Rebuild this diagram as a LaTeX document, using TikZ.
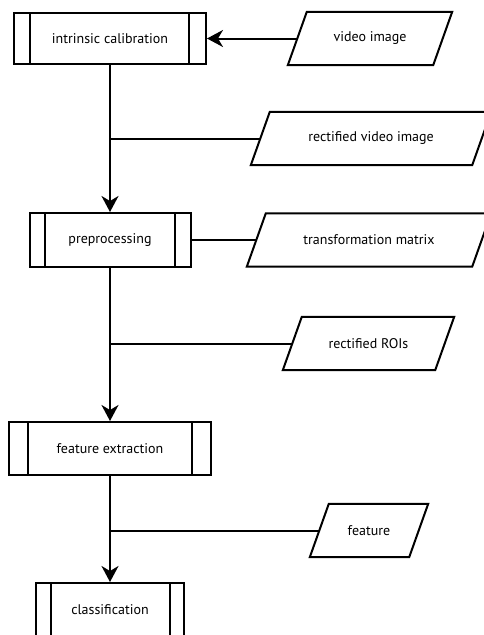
\documentclass[tikz,border=0pt]{standalone}
\usepackage{fontspec}
\setmainfont{PT Sans}
\usetikzlibrary{arrows.meta}
\begin{document}
\begin{tikzpicture}[x=1pt,y=-1pt,
  every node/.style={font=\fontsize{14}{16}\selectfont},
  procbox/.style={draw,line width=2pt,rectangle,inner sep=0pt},
  databox/.style={rectangle,inner sep=0pt,minimum height=53pt},
  conn/.style={line width=2pt},
  flow/.style={line width=2pt,-{Stealth[length=16pt,width=17pt,inset=5pt]}}]
\useasboundingbox (0,0) rectangle (484,635);
\fill[white] (0,0) rectangle (484,635);
% process boxes
\node[procbox,minimum width=192pt,minimum height=51pt] (b1) at (110,38.5) {intrinsic calibration};
\node[procbox,minimum width=161pt,minimum height=54pt] (b2) at (110,240) {preprocessing};
\node[procbox,minimum width=202pt,minimum height=53pt] (b3) at (110,448.5) {feature extraction};
\node[procbox,minimum width=148pt,minimum height=54pt] (b4) at (110,610) {classification};
\draw[conn] ([xshift=17pt]b1.north west) -- ([xshift=17pt]b1.south west);
\draw[conn] ([xshift=-18pt]b1.north east) -- ([xshift=-18pt]b1.south east);
\draw[conn] ([xshift=16pt]b2.north west) -- ([xshift=16pt]b2.south west);
\draw[conn] ([xshift=-17pt]b2.north east) -- ([xshift=-17pt]b2.south east);
\draw[conn] ([xshift=20pt]b3.north west) -- ([xshift=20pt]b3.south west);
\draw[conn] ([xshift=-20pt]b3.north east) -- ([xshift=-20pt]b3.south east);
\draw[conn] ([xshift=16pt]b4.north west) -- ([xshift=16pt]b4.south west);
\draw[conn] ([xshift=-15pt]b4.north east) -- ([xshift=-15pt]b4.south east);
% data boxes (node width = width at mid-height; outline slanted by 19pt)
\node[databox,minimum width=145pt] (p1) at (370,38.5) {video image};
\node[databox,minimum width=221pt] (p2) at (371,138.5) {rectified video image};
\node[databox,minimum width=225pt] (p3) at (369,240) {transformation matrix};
\node[databox,minimum width=152pt] (p4) at (368.5,343.5) {rectified ROIs};
\node[databox,minimum width=99pt] (p5) at (369,530.5) {feature};
\foreach \p in {p1,p2,p3,p4,p5}{
  \draw[conn,line join=miter] ([xshift=9.5pt]\p.north west) -- ([xshift=9.5pt]\p.north east)
    -- ([xshift=-9.5pt]\p.south east) -- ([xshift=-9.5pt]\p.south west) -- cycle;
}
% connectors
\draw[flow] (p1) -- (b1);
\draw[flow] (b1) -- (b2);
\draw[flow] (b2) -- (b3);
\draw[flow] (b3) -- (b4);
\draw[conn] (p2.west) -- (p2.west -| b1.south);
\draw[conn] (b2) -- (p3);
\draw[conn] (p4.west) -- (p4.west -| b2.south);
\draw[conn] (p5.west) -- (p5.west -| b3.south);
\end{tikzpicture}
\end{document}
